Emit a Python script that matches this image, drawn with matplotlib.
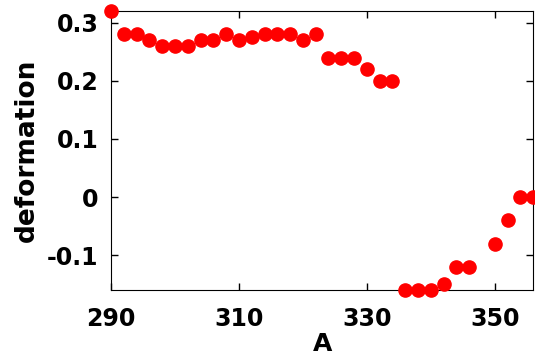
import matplotlib
matplotlib.use('Agg')
import matplotlib.pyplot as plt

# mass number A and deformation
A = [290, 292, 294, 296, 298, 300, 302, 304, 306, 308, 310, 312, 314, 316,
     318, 320, 322, 324, 326, 328, 330, 332, 334, 336, 338, 340, 342, 344,
     346, 350, 352, 354, 356]
deformation = [0.32, 0.28, 0.28, 0.27, 0.26, 0.26, 0.26, 0.27, 0.27, 0.28,
               0.27, 0.275, 0.28, 0.28, 0.28, 0.27, 0.28, 0.24, 0.24, 0.24,
               0.22, 0.20, 0.20, -0.16, -0.16, -0.16, -0.15, -0.12, -0.12,
               -0.08, -0.04, 0.0, 0.0]

xticks = [290, 310, 330, 350]
yticks = [-0.1, 0, 0.1, 0.2, 0.3]
ytick_labels = ['-0.1', '0', '0.1', '0.2', '0.3']

fig = plt.figure(figsize=(5.35, 3.59), dpi=100)
ax = fig.add_axes([0.2075, 0.192, 0.789, 0.777])

ax.plot(A, deformation, 'o', color='red', markersize=9.5, clip_on=False, zorder=3)

ax.set_xlim(290, 356)
ax.set_ylim(-0.16, 0.32)
ax.set_xticks(xticks)
ax.set_xticklabels([str(t) for t in xticks])
ax.set_yticks(yticks)
ax.set_yticklabels(ytick_labels)

ax.tick_params(direction='in', top=True, right=True, length=5, width=1,
               labelsize=17)
ax.tick_params(axis='x', pad=12)
ax.tick_params(axis='y', pad=9)
for lab in ax.get_xticklabels() + ax.get_yticklabels():
    lab.set_fontweight('bold')

ax.set_xlabel('A', fontsize=18, fontweight='bold', labelpad=1)
ax.set_ylabel('deformation', fontsize=19, fontweight='bold', labelpad=5)

fig.savefig('out.png', dpi=100)
